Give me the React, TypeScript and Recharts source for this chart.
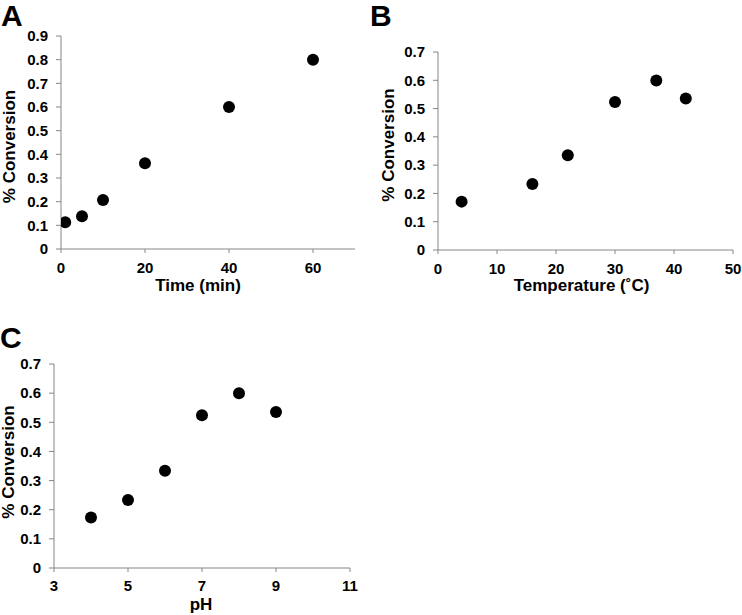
import { ScatterChart, Scatter, XAxis, YAxis } from 'recharts';

// Panel A: conversion over time
const tiempoMin = [1, 5, 10, 20, 40, 60];
const conversionTiempo = [0.113, 0.138, 0.207, 0.362, 0.6, 0.8];
const tiempoTicks = [0, 20, 40, 60];
const tiempoYTicks = [0, 0.1, 0.2, 0.3, 0.4, 0.5, 0.6, 0.7, 0.8, 0.9];

// Panel B: conversion vs temperature
const temperaturas = [4, 16, 22, 30, 37, 42];
const conversionTemp = [0.171, 0.233, 0.335, 0.523, 0.599, 0.536];
const tempTicks = [0, 10, 20, 30, 40, 50];

// Panel C: conversion vs pH
const valoresPH = [4, 5, 6, 7, 8, 9];
const conversionPH = [0.173, 0.233, 0.334, 0.524, 0.6, 0.535];
const phTicks = [3, 5, 7, 9, 11];

const conversionTicks = [0, 0.1, 0.2, 0.3, 0.4, 0.5, 0.6, 0.7];

const FUENTE = '"Liberation Sans", Arial, sans-serif';
const GRIS = '#868686';

const tickStyle = { fill: '#000', fontSize: 15, fontWeight: 700, fontFamily: FUENTE };
const tituloStyle = { fill: '#000', fontSize: 17, fontWeight: 700, fontFamily: FUENTE };

interface PuntoProps {
  cx?: number;
  cy?: number;
}

const Punto = ({ cx, cy }: PuntoProps) => <circle cx={cx} cy={cy} r={6} fill="#000" />;

interface PanelProps {
  xs: number[];
  ys: number[];
  xDomain: [number, number];
  xTicks: number[];
  yDomain: [number, number];
  yTicks: number[];
  xTitle: string;
  width: number;
  height: number;
  margin: { top: number; right: number; bottom: number; left: number };
  yAxisWidth: number;
  xAxisHeight: number;
  xTickMargin: number;
  yTitleOffset: number;
  yTitleDy: number;
  xTitleDx: number;
  xTitleOffset: number;
}

const Panel = ({
  xs, ys, xDomain, xTicks, yDomain, yTicks, xTitle,
  width, height, margin, yAxisWidth, xAxisHeight, xTickMargin,
  yTitleOffset, yTitleDy, xTitleDx, xTitleOffset,
}: PanelProps) => {
  const datos = xs.map((x, i) => ({ x, y: ys[i] }));
  return (
    <ScatterChart width={width} height={height} margin={margin}>
      <XAxis
        type="number"
        dataKey="x"
        domain={xDomain}
        ticks={xTicks}
        allowDataOverflow
        height={xAxisHeight}
        stroke={GRIS}
        tickSize={4}
        tickMargin={xTickMargin}
        tick={tickStyle}
        label={{ value: xTitle, position: 'insideBottom', offset: xTitleOffset, dx: xTitleDx, style: tituloStyle }}
      />
      <YAxis
        type="number"
        dataKey="y"
        domain={yDomain}
        ticks={yTicks}
        allowDataOverflow
        width={yAxisWidth}
        stroke={GRIS}
        tickSize={5}
        tickMargin={8}
        tick={tickStyle}
        label={{
          value: '% Conversion',
          angle: -90,
          position: 'insideLeft',
          offset: yTitleOffset,
          dy: yTitleDy,
          style: { ...tituloStyle, textAnchor: 'middle' },
        }}
      />
      <Scatter data={datos} fill="#000" shape={<Punto />} isAnimationActive={false} />
    </ScatterChart>
  );
};

const letra = (texto: string, left: number, top: number) => (
  <div
    style={{
      position: 'absolute',
      left,
      top,
      fontFamily: FUENTE,
      fontWeight: 700,
      fontSize: 30,
      lineHeight: '30px',
      color: '#000',
    }}
  >
    {texto}
  </div>
);

export default function App() {
  return (
    <div style={{ position: 'absolute', left: 0, top: 0, width: 742, height: 615, background: '#fff' }}>
      {letra('A', 1, 1)}
      {letra('B', 370, 1)}
      {letra('C', 0, 323)}

      <div style={{ position: 'absolute', left: 0, top: 0 }}>
        <Panel
          xs={tiempoMin}
          ys={conversionTiempo}
          xDomain={[0, 70]}
          xTicks={tiempoTicks}
          yDomain={[0, 0.9]}
          yTicks={tiempoYTicks}
          xTitle="Time (min)"
          width={370}
          height={300}
          margin={{ top: 36, right: 15, bottom: 0, left: 0 }}
          yAxisWidth={61}
          xAxisHeight={51}
          xTickMargin={9}
          yTitleOffset={9}
          yTitleDy={4}
          xTitleDx={-10}
          xTitleOffset={9}
        />
      </div>

      <div style={{ position: 'absolute', left: 370, top: 0 }}>
        <Panel
          xs={temperaturas}
          ys={conversionTemp}
          xDomain={[0, 50]}
          xTicks={tempTicks}
          yDomain={[0, 0.7]}
          yTicks={conversionTicks}
          xTitle="Temperature (˚C)"
          width={372}
          height={300}
          margin={{ top: 52, right: 9, bottom: 0, left: 0 }}
          yAxisWidth={68}
          xAxisHeight={50}
          xTickMargin={9}
          yTitleOffset={18}
          yTitleDy={-6}
          xTitleDx={-4}
          xTitleOffset={9}
        />
      </div>

      <div style={{ position: 'absolute', left: 0, top: 300 }}>
        <Panel
          xs={valoresPH}
          ys={conversionPH}
          xDomain={[3, 11]}
          xTicks={phTicks}
          yDomain={[0, 0.7]}
          yTicks={conversionTicks}
          xTitle="pH"
          width={370}
          height={315}
          margin={{ top: 64, right: 20, bottom: 0, left: 0 }}
          yAxisWidth={54}
          xAxisHeight={47}
          xTickMargin={8}
          yTitleOffset={8}
          yTitleDy={-4}
          xTitleDx={-1}
          xTitleOffset={5}
        />
      </div>
    </div>
  );
}
